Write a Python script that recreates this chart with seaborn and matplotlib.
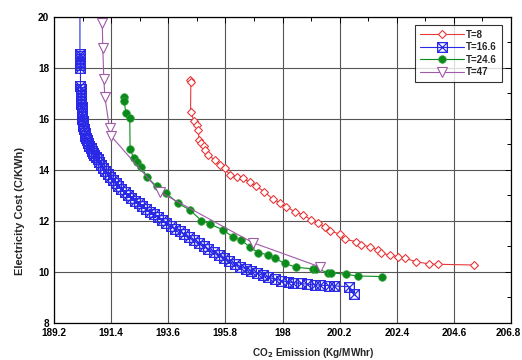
import matplotlib
matplotlib.use("Agg")
import matplotlib.pyplot as plt
import matplotlib.transforms as mtransforms
from matplotlib.path import Path
from matplotlib.ticker import MultipleLocator
import seaborn as sns

# ---- data ----
t8_x = [194.43, 194.47, 194.46, 194.60, 194.69, 194.75, 194.79, 194.88, 194.97, 195.03,
        195.13, 195.39, 195.58, 195.78, 195.97, 196.23, 196.48, 196.74, 196.99, 197.30,
        197.63, 197.89, 198.15, 198.47, 198.79, 199.11, 199.37, 199.62, 199.82, 200.20,
        200.39, 200.84, 201.03, 201.35, 201.67, 201.80, 202.12, 202.44, 202.70, 203.15,
        203.66, 204.00, 205.39]
t8_y = [17.53, 17.46, 16.29, 15.90, 15.76, 15.57, 15.18, 15.05, 14.92, 14.78,
        14.59, 14.39, 14.20, 14.07, 13.80, 13.74, 13.67, 13.52, 13.35, 13.15,
        12.85, 12.72, 12.56, 12.36, 12.24, 12.04, 11.91, 11.78, 11.62, 11.48,
        11.28, 11.19, 11.06, 10.99, 10.86, 10.73, 10.67, 10.60, 10.54, 10.40,
        10.31, 10.30, 10.27]

t166_x = [190.20, 190.20, 190.20, 190.21, 190.21, 190.22, 190.22, 190.22, 190.23, 190.23,
          190.24, 190.24, 190.25, 190.25, 190.26, 190.26, 190.27, 190.28, 190.29, 190.30,
          190.31, 190.33, 190.35, 190.38, 190.41, 190.44, 190.48, 190.52, 190.56, 190.61,
          190.66, 190.71, 190.76, 190.82, 190.88, 190.95, 191.02, 191.10, 191.18, 191.27,
          191.36, 191.46, 191.57, 191.68, 191.80, 191.92, 192.05, 192.18, 192.32, 192.46,
          192.60, 192.75, 192.90, 193.05, 193.21, 193.37, 193.53, 193.70, 193.87, 194.04,
          194.22, 194.40, 194.58, 194.77, 194.96, 195.15, 195.35, 195.55, 195.75, 195.95,
          196.16, 196.37, 196.58, 196.80, 197.02, 197.24, 197.46, 197.70, 197.95, 198.20,
          198.40, 198.70, 198.95, 199.25, 199.45, 199.80, 200.00, 200.55, 200.74]
t166_y = [20.60, 18.55, 18.45, 18.35, 18.22, 18.10, 18.00, 17.30, 17.18, 17.05,
          16.95, 16.83, 16.72, 16.60, 16.48, 16.37, 16.25, 16.12, 16.00, 15.92,
          15.85, 15.72, 15.60, 15.45, 15.33, 15.25, 15.17, 15.05, 14.95, 14.85,
          14.76, 14.68, 14.60, 14.50, 14.41, 14.31, 14.20, 14.08, 13.96, 13.84,
          13.72, 13.60, 13.48, 13.37, 13.25, 13.14, 13.02, 12.91, 12.80, 12.69,
          12.58, 12.47, 12.36, 12.26, 12.15, 12.04, 11.93, 11.82, 11.70, 11.59,
          11.47, 11.35, 11.24, 11.12, 11.01, 10.89, 10.77, 10.65, 10.53, 10.42,
          10.31, 10.21, 10.12, 10.03, 9.95, 9.87, 9.79, 9.72, 9.66, 9.61,
          9.58, 9.55, 9.52, 9.49, 9.48, 9.46, 9.45, 9.42, 9.12]

t246_x = [191.89, 191.90, 191.97, 192.12, 192.13, 192.28, 192.40, 192.56, 192.77, 193.15,
          193.53, 193.98, 194.43, 194.88, 195.20, 195.71, 196.10, 196.42, 196.74, 197.06,
          197.44, 197.70, 198.08, 198.53, 199.17, 199.30, 199.75, 199.88, 200.46, 200.90,
          201.83]
t246_y = [16.87, 16.72, 16.22, 16.03, 14.81, 14.46, 14.33, 14.13, 13.74, 13.35,
          13.08, 12.69, 12.43, 12.01, 11.88, 11.65, 11.36, 11.25, 10.97, 10.76,
          10.67, 10.54, 10.34, 10.18, 10.12, 10.13, 9.97, 9.97, 9.90, 9.84,
          9.82]

t47_x = [191.04, 191.06, 191.08, 191.12, 191.16, 191.34, 191.40, 193.30, 196.85, 199.43]
t47_y = [20.70, 19.75, 18.77, 17.56, 16.85, 15.63, 15.33, 13.12, 11.15, 10.20]

x_ticks = [189.2, 191.4, 193.6, 195.8, 198.0, 200.2, 202.4, 204.6, 206.8]
x_tick_labels = ["189.2", "191.4", "193.6", "195.8", "198", "200.2", "202.4", "204.6", "206.8"]
y_ticks = [8, 10, 12, 14, 16, 18, 20]

# ---- style ----
sns.set_theme(style="white")
plt.rcParams["font.family"] = ["Liberation Sans", "DejaVu Sans"]
plt.rcParams["font.weight"] = "bold"

fig = plt.figure(figsize=(5.22, 3.6), dpi=100)
ax = fig.add_axes([0.1034, 0.103, 0.8756, 0.850])

boxx = Path([(-1, -1), (1, -1), (1, 1), (-1, 1), (-1, -1), (-1, -1), (1, 1), (-1, 1), (1, -1)],
            [Path.MOVETO, Path.LINETO, Path.LINETO, Path.LINETO, Path.LINETO,
             Path.MOVETO, Path.LINETO, Path.MOVETO, Path.LINETO])

red = "#e8383a"
blue = "#2828e6"
green = "#0a8a1a"
purple = "#a05aa8"

common = dict(sort=False, estimator=None, ax=ax, lw=0.8)
sns.lineplot(x=t8_x, y=t8_y, color=red, marker="D",
             markersize=4.2, markerfacecolor="white", markeredgecolor=red,
             markeredgewidth=0.8, label="T=8", **common)
sns.lineplot(x=t166_x, y=t166_y, color=blue, marker=boxx,
             markersize=7, markerfacecolor="none", markeredgecolor=blue,
             markeredgewidth=0.9, label="T=16.6", **common)
sns.lineplot(x=t246_x, y=t246_y, color=green, marker="o",
             markersize=5.5, markerfacecolor=green, markeredgecolor="#3aa040",
             markeredgewidth=0.5, label="T=24.6", **common)
sns.lineplot(x=t47_x, y=t47_y, color=purple, marker="v",
             markersize=7, markerfacecolor="white", markeredgecolor=purple,
             markeredgewidth=0.8, label="T=47", **common)

ax.set_xlim(189.2, 206.8)
ax.set_ylim(8, 20)
ax.set_xticks(x_ticks)
ax.set_xticklabels(x_tick_labels)
ax.set_yticks(y_ticks)
ax.xaxis.set_minor_locator(MultipleLocator(1.1))
ax.yaxis.set_minor_locator(MultipleLocator(1))
ax.tick_params(which="both", direction="in", top=True, right=True, labelsize=7.2,
               colors="black", length=3, width=0.7)
ax.tick_params(which="major", length=4)
for lab in ax.get_xticklabels() + ax.get_yticklabels():
    lab.set_fontweight("bold")
# keep the last x tick label inside the canvas
last = ax.get_xticklabels()[-1]
last.set_transform(last.get_transform() +
                   mtransforms.ScaledTranslation(-3 / 100, 0, fig.dpi_scale_trans))
ax.grid(True, which="major", color="#555555", lw=0.8)
for s in ax.spines.values():
    s.set_color("black")
    s.set_linewidth(0.9)

ax.set_xlabel("CO$_\\mathbf{2}$ Emission (Kg/MWhr)", fontsize=7.2, fontweight="bold",
              labelpad=6, x=0.567)
ax.set_ylabel("Electricity Cost (C/KWh)", fontsize=8, fontweight="bold",
              labelpad=9, y=0.366)

leg = ax.legend(loc="upper right", bbox_to_anchor=(0.99, 0.99), fontsize=7,
                frameon=True, fancybox=False, handlelength=4.5, handletextpad=0.2,
                labelspacing=0.25, borderpad=0.5, markerfirst=True)
leg.get_frame().set_edgecolor("black")
leg.get_frame().set_linewidth(0.8)
for t in leg.get_texts():
    t.set_fontweight("bold")

fig.savefig("out.png", dpi=100)
